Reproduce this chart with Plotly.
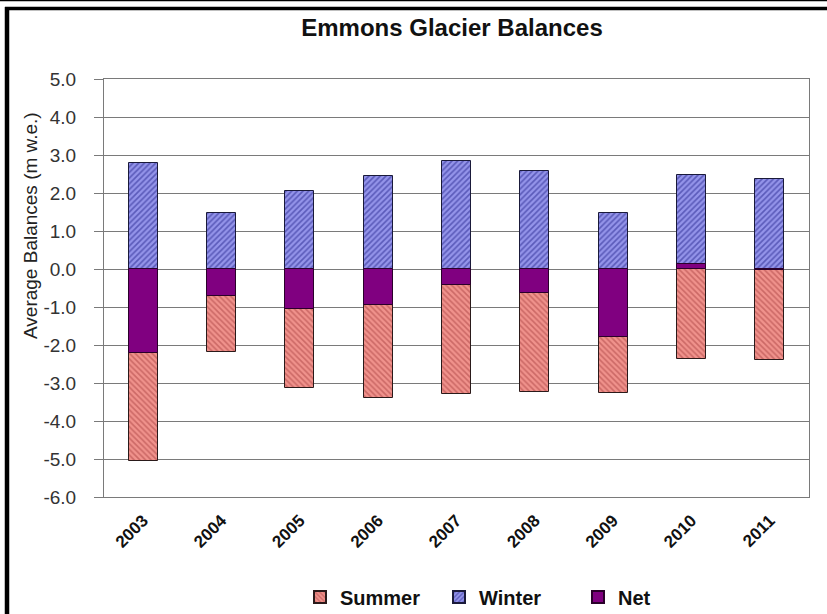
import plotly.graph_objects as go

# Emmons Glacier mass balance, m water equivalent
years = ["2003", "2004", "2005", "2006", "2007", "2008", "2009", "2010", "2011"]
winter = [2.80, 1.47, 2.04, 2.45, 2.84, 2.57, 1.47, 2.48, 2.37]
summer = [-5.05, -2.19, -3.13, -3.40, -3.29, -3.23, -3.27, -2.38, -2.39]
net = [-2.22, -0.72, -1.05, -0.95, -0.43, -0.64, -1.80, 0.13, -0.02]

y_ticks = [5, 4, 3, 2, 1, 0, -1, -2, -3, -4, -5, -6]
y_labels = ["5.0", "4.0", "3.0", "2.0", "1.0", "0.0", "-1.0", "-2.0", "-3.0", "-4.0", "-5.0", "-6.0"]

# plot area in pixels (827 x 614 page)
L, R, T, B = 104, 809, 79, 497
W, H = 827, 614


def px_x(x):
    return (x - L) / (R - L)


def px_y(y):
    return (B - y) / (B - T)


BAR_W = 0.37
GRID = "#7a7a7a"
FONT = "Liberation Sans, Arial, sans-serif"

fig = go.Figure()
fig.add_trace(go.Bar(
    x=years, y=summer, name="Summer", width=BAR_W,
    marker=dict(
        color="#ee8a84",
        line=dict(color="#2a1a1a", width=1),
        pattern=dict(shape="\\", fgcolor="#a84040", bgcolor="#f0928c", size=4, solidity=0.4),
    ),
))
fig.add_trace(go.Bar(
    x=years, y=winter, name="Winter", width=BAR_W,
    marker=dict(
        color="#8c8ce6",
        line=dict(color="#1a1a3a", width=1),
        pattern=dict(shape="/", fgcolor="#22228a", bgcolor="#9494ea", size=4, solidity=0.42),
    ),
))
fig.add_trace(go.Bar(
    x=years, y=net, name="Net", width=BAR_W,
    marker=dict(color="#800080", line=dict(color="#2a002a", width=1)),
))

# frame around the chart
shapes = [
    dict(type="line", xref="paper", yref="paper", x0=px_x(0), x1=px_x(W), y0=px_y(0.5), y1=px_y(0.5),
         line=dict(color="black", width=1.5)),
    dict(type="line", xref="paper", yref="paper", x0=px_x(5), x1=px_x(W), y0=px_y(8.5), y1=px_y(8.5),
         line=dict(color="black", width=3.5)),
    dict(type="line", xref="paper", yref="paper", x0=px_x(7), x1=px_x(7), y0=px_y(7), y1=px_y(W),
         line=dict(color="black", width=4.5)),
]

zero_axis = dict(
    overlaying="x", anchor="free", position=px_y(269), side="bottom",
    range=[-0.5, 8.5], tickmode="array", tickvals=[i + 0.5 for i in range(len(years) - 1)],
    tickcolor="#555", showticklabels=False,
    showgrid=False, zeroline=False, showline=True, linecolor=GRID,
)

fig.update_layout(
    width=W, height=H,
    margin=dict(l=L, r=W - R, t=T, b=H - B),
    barmode="overlay",
    paper_bgcolor="white",
    plot_bgcolor="white",
    font=dict(family=FONT, color="#222"),
    title=dict(text="Emmons Glacier Balances", x=452 / W, xref="container", xanchor="center",
               y=1 - 28 / H, yref="container", yanchor="middle",
               font=dict(size=24, family=FONT, color="#111", weight="bold")),
    xaxis=dict(
        type="category", categoryarray=years, range=[-0.5, 8.5],
        tickangle=-45, ticks="", showgrid=False, zeroline=False,
        showline=True, linecolor=GRID, mirror=True, ticklabelstandoff=6,
        tickfont=dict(size=17, color="#111", weight="bold"),
    ),
    xaxis2=dict(zero_axis, ticks="outside", ticklen=7),
    xaxis3=dict(zero_axis, ticks="inside", ticklen=5),
    yaxis=dict(
        range=[-6, 5], tickmode="array", tickvals=y_ticks, ticktext=y_labels,
        ticks="outside", ticklen=9, tickcolor=GRID, ticklabelstandoff=14,
        showgrid=True, gridcolor=GRID, gridwidth=1, zeroline=False,
        showline=True, linecolor=GRID, mirror=True,
        tickfont=dict(size=19, color="#333"),
    ),
    legend=dict(
        orientation="h", x=300 / W, xref="container", xanchor="left",
        y=1 - 597 / H, yref="container", yanchor="middle",
        font=dict(size=20, color="#111", weight="bold"),
        itemsizing="constant", traceorder="normal", entrywidth=94,
    ),
    annotations=[dict(
        text="Average Balances (m w.e.)", textangle=-90,
        xref="paper", yref="paper", x=px_x(30), y=px_y(226),
        xanchor="center", yanchor="middle", showarrow=False,
        font=dict(size=19, color="#222"),
    )],
    shapes=shapes,
    bargap=0,
)

fig.write_html("out.html", config={"displayModeBar": False},
               post_script="document.body.style.margin='0px';")
